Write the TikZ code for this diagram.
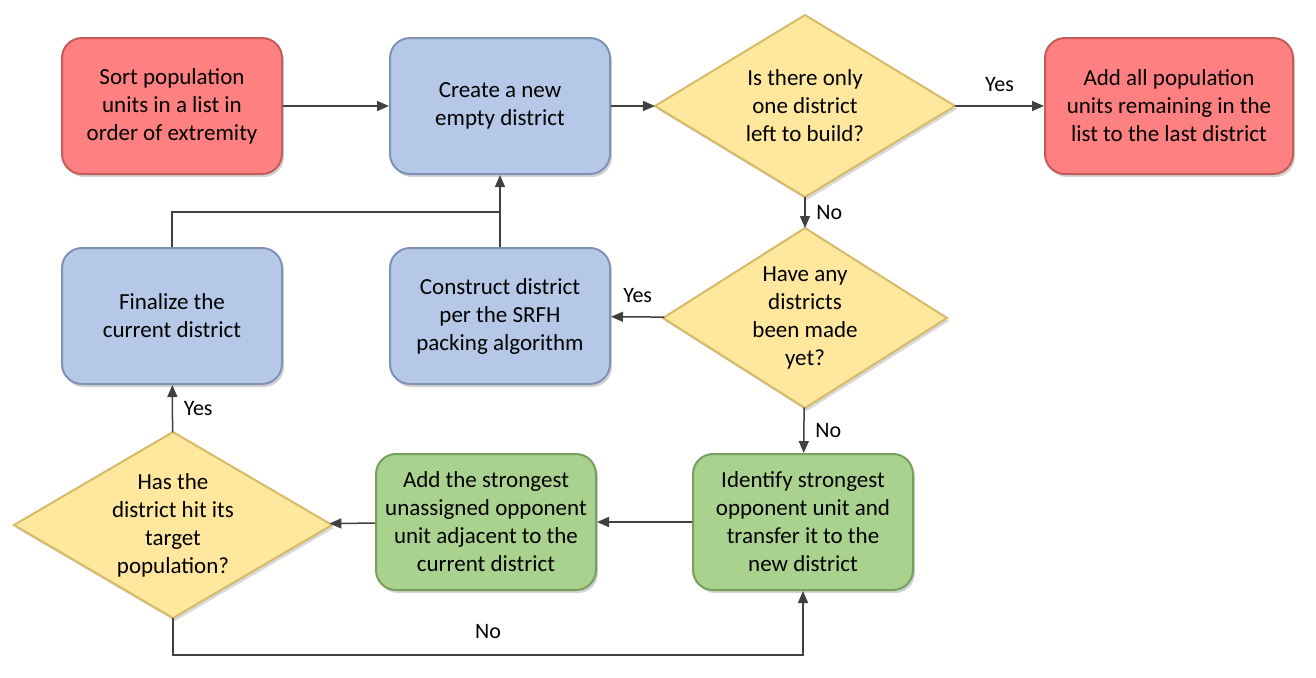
\documentclass[tikz,border=0pt]{standalone}
\usepackage{fontspec}
\setmainfont{Carlito}
\usetikzlibrary{arrows.meta, shapes.geometric, shadows}

\definecolor{stepred}{RGB}{255,128,128}
\definecolor{stepredrim}{RGB}{196,92,92}
\definecolor{stepblue}{RGB}{182,200,232}
\definecolor{stepbluerim}{RGB}{128,146,180}
\definecolor{stepgreen}{RGB}{170,210,143}
\definecolor{stepgreenrim}{RGB}{118,160,92}
\definecolor{askyellow}{RGB}{255,232,158}
\definecolor{askyellowrim}{RGB}{214,186,104}
\definecolor{wire}{RGB}{64,64,64}

\tikzset{
  box/.style={rectangle, rounded corners=10pt, minimum width=110pt, minimum height=68pt,
    align=center, inner sep=2pt, line width=1pt,
    drop shadow={shadow xshift=1pt, shadow yshift=-1.5pt, opacity=0.35}},
  redbox/.style={box, fill=stepred, draw=stepredrim},
  bluebox/.style={box, fill=stepblue, draw=stepbluerim},
  greenbox/.style={box, fill=stepgreen, draw=stepgreenrim},
  ask/.style={diamond, align=center, inner sep=0pt, outer sep=0pt, aspect=1.7, line width=1pt,
    fill=askyellow, draw=askyellowrim,
    drop shadow={shadow xshift=1pt, shadow yshift=-1.5pt, opacity=0.3}},
  line/.style={draw=wire, line width=0.75pt},
  flow/.style={line, -{Triangle[length=6pt, width=5pt]}},
  tag/.style={font=\fontsize{11}{13}\selectfont}
}

\begin{document}
\begin{tikzpicture}[x=0.5pt, y=-0.5pt, font=\fontsize{11.5}{14}\selectfont]
    \useasboundingbox (0,0) rectangle (1316,677);

    % Top row
    \node[redbox] (sort) at (172,106) {Sort population\\units in a list in\\order of extremity};
    \node[bluebox] (create) at (500,106) {Create a new\\empty district};
    \node[ask, minimum width=150pt, minimum height=91pt] (onlyone) at (805,106)
        {Is there only\\one district\\left to build?};
    \node[redbox, minimum width=124pt] (last) at (1169,106)
        {Add all population\\units remaining in the\\list to the last district};

    % Middle row
    \node[bluebox] (finalize) at (172,316) {Finalize the\\current district};
    \node[bluebox] (construct) at (500,316) {Construct district\\per the SRFH\\packing algorithm};
    \node[ask, minimum width=142pt, minimum height=90pt] (anymade) at (805,318)
        {Have any\\districts\\been made\\yet?};

    % Bottom row
    \node[ask, minimum width=159pt, minimum height=93pt] (hit) at (173,525)
        {Has the\\district hit its\\target\\population?};
    \node[greenbox] (adjacent) at (486,522)
        {Add the strongest\\unassigned opponent\\unit adjacent to the\\current district};
    \node[greenbox] (identify) at (803,522)
        {Identify strongest\\opponent unit and\\transfer it to the\\new district};

    \coordinate (join) at (500,212);
    \coordinate (under) at (173,655);

    % Connectors
    \draw[flow] (sort) -- (create);
    \draw[flow] (create) -- (onlyone);
    \draw[flow] (onlyone) -- node[tag, above=3.5pt]{Yes} (last);
    \draw[flow] (onlyone) -- node[tag, right=2pt]{No} (anymade);
    \draw[flow] (anymade) -- node[tag, above=3.5pt]{Yes} (construct);
    \draw[flow] (anymade) -- node[tag, right=2pt]{No} (identify);
    \draw[flow] (construct) -- (create);
    \draw[line] (finalize) |- (join);
    \draw[flow] (identify) -- (adjacent);
    \draw[flow] (adjacent) -- (hit);
    \draw[flow] (hit) -- node[tag, right=2pt]{Yes} (finalize);
    \draw[flow] (hit) -- (under) -| node[tag, pos=0.25, above=4.5pt]{No} (identify);
\end{tikzpicture}
\end{document}
